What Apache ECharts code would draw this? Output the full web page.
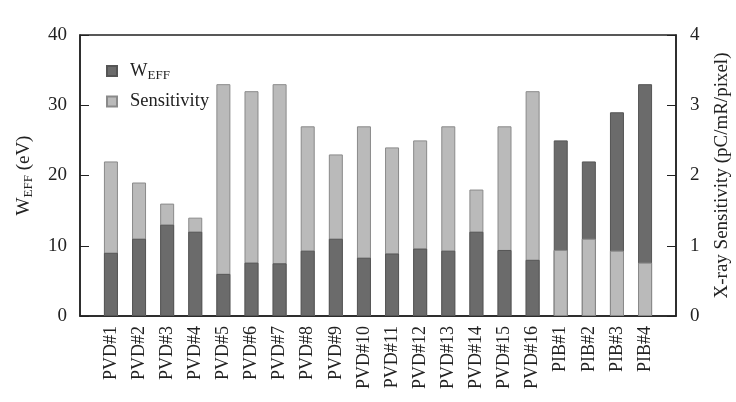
<!DOCTYPE html>
<html>
<head>
<meta charset="utf-8">
<script src="https://cdn.jsdelivr.net/npm/echarts@6/dist/echarts.min.js"></script>
<style>html,body{margin:0;padding:0;background:#fff}#c{width:736px;height:402px}</style>
</head>
<body>
<div id="c"></div>
<script>
const categories = ['PVD#1','PVD#2','PVD#3','PVD#4','PVD#5','PVD#6','PVD#7','PVD#8','PVD#9','PVD#10','PVD#11','PVD#12','PVD#13','PVD#14','PVD#15','PVD#16','PIB#1','PIB#2','PIB#3','PIB#4'];
const weff = [9.0,11.0,13.0,12.0,6.0,7.6,7.5,9.3,11.0,8.3,8.9,9.6,9.3,12.0,9.4,8.0,25.0,22.0,29.0,33.0];
const sensitivity = [2.2,1.9,1.6,1.4,3.3,3.2,3.3,2.7,2.3,2.7,2.4,2.5,2.7,1.8,2.7,3.2,0.94,1.1,0.93,0.76];
const leftTicks = [0,10,20,30,40];
const rightTicks = [0,1,2,3,4];

const DARK = '#6b6b6b', LIGHT = '#bababa';
const font = 'Liberation Serif';
const chart = echarts.init(document.getElementById('c'), null, {renderer:'canvas'});
const idx = categories.map((c,i)=>i);
const sensFront = sensitivity.map((v,i)=> (weff[i] > v*10) ? [i, v] : [i, '-']);
chart.setOption({
  animation:false,
  textStyle:{fontFamily:font, color:'#222'},
  grid:{left:80, right:60, top:35, bottom:86, outerBoundsMode:'none', containLabel:false,
        show:true, borderColor:'#222', borderWidth:1.5, backgroundColor:'transparent'},
  legend:{
    orient:'vertical', left:101, top:55, itemWidth:10, itemHeight:10, itemGap:10,
    data:['W_EFF','Sensitivity'],
    textStyle:{fontFamily:font, fontSize:18.5, color:'#222', padding:[0,0,0,8],
      rich:{b:{fontFamily:font,fontSize:18.5,color:'#222',lineHeight:19}, s:{fontFamily:font,fontSize:13,color:'#222',lineHeight:19,padding:[9,0,0,0]}}},
    formatter: n => n==='W_EFF' ? '{b|W}{s|EFF}' : '{b|Sensitivity}',
    icon:'rect'
  },
  xAxis:{
    type:'value', min:-1.1, max:20.1,
    axisLine:{show:true, onZero:false, lineStyle:{color:'#222', width:1.5}},
    axisTick:{show:false}, splitLine:{show:false},
    axisLabel:{customValues:idx, rotate:90, fontFamily:font, fontSize:18, color:'#222', margin:10,
      formatter: v => categories[Math.round(v)] || ''}
  },
  yAxis:[
    {type:'value', min:0, max:40, interval:10, position:'left',
     axisLine:{show:true, onZero:false, lineStyle:{color:'#222', width:1.5}},
     axisTick:{show:true, inside:true, length:9, lineStyle:{color:'#222'}},
     splitLine:{show:false},
     axisLabel:{fontFamily:font, fontSize:19, color:'#222', margin:13, customValues:leftTicks},
     name:'{b|W}{s|EFF}{b| (eV)}', nameLocation:'middle', nameGap:45, nameRotate:90,
     nameTextStyle:{rich:{b:{fontFamily:font,fontSize:19,color:'#222'}, s:{fontFamily:font,fontSize:13,color:'#222',padding:[9,0,0,0]}}}
    },
    {type:'value', min:0, max:4, interval:1, position:'right',
     axisLine:{show:true, onZero:false, lineStyle:{color:'#222', width:1.5}},
     axisTick:{show:true, inside:true, length:9, lineStyle:{color:'#222'}},
     splitLine:{show:false},
     axisLabel:{fontFamily:font, fontSize:19, color:'#222', margin:14, customValues:rightTicks},
     name:'X-ray Sensitivity (pC/mR/pixel)', nameLocation:'middle', nameGap:37, nameRotate:90,
     nameTextStyle:{fontFamily:font, fontSize:19, color:'#222'}
    }
  ],
  series:[
    {name:'Sensitivity', type:'bar', yAxisIndex:1, barWidth:14, barGap:'-100%',
     data: sensitivity.map((v,i)=>[i,v]),
     itemStyle:{color:LIGHT, borderColor:'#8a8a8a', borderWidth:1}},
    {name:'W_EFF', type:'bar', yAxisIndex:0, barWidth:14, barGap:'-100%',
     data: weff.map((v,i)=>[i,v]),
     itemStyle:{color:DARK, borderColor:'#555', borderWidth:1}},
    {name:'Sensitivity', type:'bar', yAxisIndex:1, barWidth:14, barGap:'-100%',
     data: sensFront,
     itemStyle:{color:LIGHT, borderColor:'#8a8a8a', borderWidth:1}}
  ]
});
</script>
</body>
</html>
